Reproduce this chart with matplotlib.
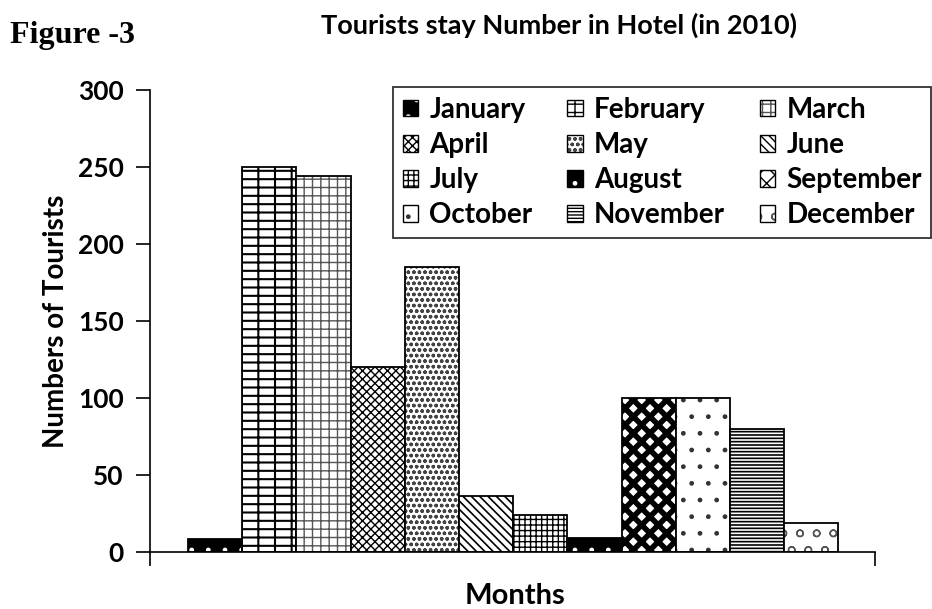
import numpy as np
import matplotlib.pyplot as plt
from matplotlib.patches import Patch

# Data
months = ['January', 'February', 'March', 'April', 'May', 'June',
          'July', 'August', 'September', 'October', 'November', 'December']
tourists = [8, 250, 244, 120, 185, 36, 24, 9, 100, 100, 80, 19]

# hatch styles, one per month (face colour, hatch colour, hatch, hatch width)
faces = ['black', 'white', 'white', 'white', 'white', 'white',
         'white', 'black', 'white', 'white', 'white', 'white']
hcols = ['white', 'black', '#555555', 'black', '#444444', 'black',
         'black', 'white', 'black', '#333333', 'black', '#555555']
hatches = ['.', '+-', '++', 'xxxx', 'ooo', '\\\\\\\\',
           '+++', '.', 'xx', '.', '-----', 'o']
hwidths = [1, 1.5, 1, 1, 1, 1.2, 1, 1, 4, 1, 1.2, 1]

plt.rcParams['font.family'] = ['Lato', 'DejaVu Sans']
plt.rcParams['font.weight'] = 'bold'

fig = plt.figure(figsize=(9.32, 6.09), dpi=100)
ax = fig.add_axes([0.161, 0.094, 0.778, 0.758])


def hatched(p, i):
    if hasattr(p, 'set_hatch_linewidth'):
        p.set_hatch_linewidth(hwidths[i])
    return p


x = np.arange(len(months))
for i in range(len(months)):
    bars = ax.bar(x[i], tourists[i], width=1.0, color=faces[i],
                  edgecolor=hcols[i], hatch=hatches[i], linewidth=0)
    for b in bars:
        hatched(b, i)
    ax.bar(x[i], tourists[i], width=1.0, fill=False, edgecolor='black',
           linewidth=1.3)

ax.set_xlim(-1.2, 12.18)
ax.set_ylim(0, 300)
ax.set_yticks(range(0, 301, 50))
ax.set_xticks([-1.2, 12.18])
ax.set_xticklabels([])
ax.tick_params(axis='both', direction='out', length=10, width=1.2,
               labelsize=19, pad=9)
for lab in ax.get_yticklabels():
    lab.set_fontweight('bold')
ax.spines['top'].set_visible(False)
ax.spines['right'].set_visible(False)
ax.spines['left'].set_linewidth(1.2)
ax.spines['bottom'].set_linewidth(1.2)

ax.set_ylabel('Numbers of Tourists', fontsize=20, fontweight='bold')
ax.yaxis.set_label_coords(-0.112, 0.5)

# legend, filled row by row like the reference
order = [r * 3 + c for c in range(3) for r in range(4)]
handles = []
for i in order:
    p = hatched(Patch(facecolor=faces[i], edgecolor=hcols[i],
                      hatch=hatches[i], linewidth=0), i)
    edge = Patch(fill=False, edgecolor='black', linewidth=1.0)
    handles.append((p, edge))
labels = [months[i] for i in order]
leg = ax.legend(handles, labels, ncol=3, loc='upper left',
                bbox_to_anchor=(0.335, 1.0065), frameon=True,
                fancybox=False, edgecolor='black', handlelength=0.56,
                handleheight=0.56, handletextpad=0.4, columnspacing=1.25,
                labelspacing=0.33, borderpad=0.35, borderaxespad=0,
                prop={'weight': 'bold', 'size': 20})
leg.get_frame().set_linewidth(1.3)

fig.text(0.011, 0.929, 'Figure -3', fontsize=23, fontweight='bold',
         family='Liberation Serif', va='baseline')
fig.text(0.6, 0.945, 'Tourists stay Number in Hotel (in 2010)',
         fontsize=19.5, fontweight='bold', ha='center', va='baseline')
fig.text(0.553, 0.008, 'Months', fontsize=21, fontweight='bold',
         ha='center', va='baseline')

fig.savefig('out.png', dpi=100)
